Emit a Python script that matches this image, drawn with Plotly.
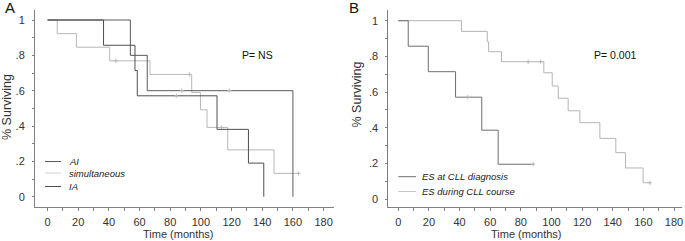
import plotly.graph_objects as go

# ---------------- data ----------------
# Panel A
a_ai_time = [0, 54, 65, 160]
a_ai_surv = [1.0, 0.8, 0.6, 0.0]
a_ai_cens_time = [87.5, 118.5]
a_ai_cens_surv = [0.6, 0.6]

a_sim_time = [0, 6.3, 18.8, 40.5, 66.8, 94, 99.7, 104, 117.5, 147.7, 163.6]
a_sim_surv = [1.0, 0.923, 0.846, 0.769, 0.692, 0.59, 0.492, 0.392, 0.265, 0.132, 0.132]
a_sim_cens_time = [44.5, 92.5, 113.5, 163.6]
a_sim_cens_surv = [0.769, 0.692, 0.392, 0.132]

a_ia_time = [0, 36.5, 57, 58.5, 110.5, 131, 141]
a_ia_surv = [1.0, 0.857, 0.714, 0.571, 0.381, 0.19, 0.0]
a_ia_cens_time = [84]
a_ia_cens_surv = [0.571]

# Panel B
b_diag_time = [0, 6.5, 19.6, 37.4, 54.5, 65.2, 88.1]
b_diag_surv = [1.0, 0.857, 0.714, 0.571, 0.386, 0.195, 0.195]
b_diag_cens_time = [45.3, 88.1]
b_diag_cens_surv = [0.571, 0.195]

b_course_time = [0, 41.3, 58.1, 59.0, 67.4, 95.0, 100.5, 104.4, 110.9, 118.5, 131.6, 142, 148.3, 159.8, 164.2]
b_course_surv = [1.0, 0.94, 0.882, 0.826, 0.77, 0.708, 0.634, 0.565, 0.495, 0.428, 0.34, 0.26, 0.174, 0.091, 0.091]
b_course_cens_time = [84.8, 92.9, 164.2]
b_course_cens_surv = [0.77, 0.77, 0.091]

x_ticks = [0, 20, 40, 60, 80, 100, 120, 140, 160, 180]
y_ticks = [0, 0.2, 0.4, 0.6, 0.8, 1.0]
y_tick_text = ["0", ".2", ".4", ".6", ".8", "1"]

legend_a = ["AI", "simultaneous", "IA"]
legend_b = ["ES at CLL diagnosis", "ES during CLL course"]

# ---------------- styling ----------------
W, H = 685, 241
C_AI = "#5a5a5a"
C_SIM = "#b8b8b8"
C_IA = "#4e4e4e"
C_DIAG = "#6e6e6e"
C_COURSE = "#b4b4b4"
AXC = "#808080"
FONT = "Liberation Sans, Arial, sans-serif"


def px(x):
    return x / W


def py(y):
    return 1 - y / H


fig = go.Figure()


def km(t, s, ct, cs, color, xa, ya):
    fig.add_trace(go.Scatter(x=t, y=s, mode="lines", line=dict(color=color, width=1, shape="hv"),
                             xaxis=xa, yaxis=ya, showlegend=False, hoverinfo="skip"))
    fig.add_trace(go.Scatter(x=ct, y=cs, mode="markers",
                             marker=dict(symbol="cross-thin", size=3, line=dict(color=C_SIM, width=1)),
                             xaxis=xa, yaxis=ya, showlegend=False, hoverinfo="skip"))


km(a_sim_time, a_sim_surv, a_sim_cens_time, a_sim_cens_surv, C_SIM, "x", "y")
km(a_ai_time, a_ai_surv, a_ai_cens_time, a_ai_cens_surv, C_AI, "x", "y")
km(a_ia_time, a_ia_surv, a_ia_cens_time, a_ia_cens_surv, C_IA, "x", "y")
km(b_course_time, b_course_surv, b_course_cens_time, b_course_cens_surv, C_COURSE, "x2", "y2")
km(b_diag_time, b_diag_surv, b_diag_cens_time, b_diag_cens_surv, C_DIAG, "x2", "y2")

xcommon = dict(tickmode="array", tickvals=x_ticks, ticks="outside", ticklen=3, tickcolor=AXC,
               showline=True, linecolor=AXC, linewidth=1, showgrid=False, zeroline=False,
               tickfont=dict(family=FONT, size=11, color="#333"), ticklabelstandoff=2,
               minor=dict(dtick=10, tick0=0, ticks="outside", ticklen=3, tickcolor=AXC, showgrid=False),
               fixedrange=True)
ycommon = dict(tickmode="array", tickvals=y_ticks, ticktext=y_tick_text, ticks="outside", ticklen=2,
               tickcolor=AXC, showline=True, linecolor=AXC, linewidth=1, showgrid=False, zeroline=False,
               tickfont=dict(family=FONT, size=11, color="#333"), ticklabelstandoff=5,
               minor=dict(dtick=0.1, tick0=0, ticks="outside", ticklen=2, tickcolor=AXC, showgrid=False),
               fixedrange=True)

y_dom = [py(206.5), py(10)]

fig.update_layout(
    width=W, height=H, margin=dict(l=0, r=0, t=0, b=0),
    paper_bgcolor="white", plot_bgcolor="white", showlegend=False,
    xaxis=dict(domain=[px(35), px(334)], range=[-8.2, 186.8], anchor="y", **xcommon),
    yaxis=dict(domain=y_dom, range=[-0.0555, 1.0566], anchor="x", **ycommon),
    xaxis2=dict(domain=[px(388.3), px(682)], range=[-6.5, 185.2], anchor="y2", **xcommon),
    yaxis2=dict(domain=y_dom, range=[-0.042, 1.06], anchor="x2", **ycommon),
)

ann = []


def text(x, y, s, size, color="#222", xanchor="center", italic=False, angle=0):
    ann.append(dict(x=px(x), y=py(y), xref="paper", yref="paper", text=s, showarrow=False,
                    xanchor=xanchor, yanchor="middle", textangle=angle,
                    font=dict(family=FONT, size=size, color=color,
                              style="italic" if italic else "normal")))


# panel letters
text(9.5, 8, "A", 15, "#111")
text(354.5, 8, "B", 15, "#111")
# axis titles
text(7, 107, "% Surviving", 12.5, "#333", angle=-90)
text(356.5, 95, "% Surviving", 12.5, "#333", angle=-90)
text(178, 233.5, "Time (months)", 11, "#333")
text(526, 233.5, "Time (months)", 11, "#333")
# p-values
text(257, 54.7, "P= NS", 10.5, "#111")
text(614.5, 54.7, "P= 0.001", 10.5, "#111")

# legends (drawn manually)
shapes = []
for lab, yy, col in zip(legend_a, [161.5, 173, 186.5], [C_AI, "#d0d0d0", C_IA]):
    shapes.append(dict(type="line", xref="paper", yref="paper", x0=px(45), x1=px(61), y0=py(yy), y1=py(yy),
                       line=dict(color=col, width=1)))
    text(67, yy, lab, 9.5, "#222", xanchor="left", italic=True)
for lab, yy, col in zip(legend_b, [176.7, 191.5], [C_DIAG, "#c8c8c8"]):
    shapes.append(dict(type="line", xref="paper", yref="paper", x0=px(398.3), x1=px(416), y0=py(yy), y1=py(yy),
                       line=dict(color=col, width=1)))
    text(420, yy, lab, 9.5, "#222", xanchor="left", italic=True)

fig.update_layout(annotations=ann, shapes=shapes)

fig.write_html("out.html", config={"displayModeBar": False, "staticPlot": True},
               post_script="document.body.style.margin='0';document.body.style.padding='0';")
